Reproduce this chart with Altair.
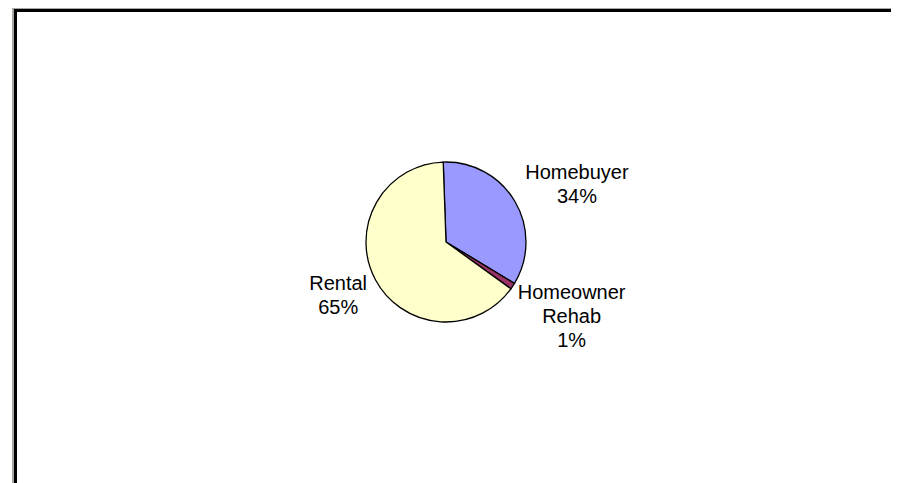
import math
import altair as alt
import pandas as pd

# ---- data ----
categories = ["Homebuyer", "Homeowner Rehab", "Rental"]
shares = [34.2, 1.3, 64.5]
label_names = ["Homebuyer", "Homeowner\nRehab", "Rental"]
pct_labels = ["34%", "1%", "65%"]

# ---- styles ----
colors = ["#9999FF", "#993366", "#FFFFCC"]
label_offsets = {"Homebuyer": (27.5, -8), "Homeowner Rehab": (25.5, -15.5), "Rental": (-2, -15)}
FONT = "Liberation Sans"

df = pd.DataFrame({
    "category": categories,
    "share": shares,
    "order": list(range(len(categories))),
    "label": [f"{n}\n{p}" for n, p in zip(label_names, pct_labels)],
})

start = math.radians(-2)
theta_scale = alt.Scale(domain=[0, 100], range=[start, start + 2 * math.pi])

base = alt.Chart(df).transform_stack(
    stack="share", groupby=[], as_=["s0", "s1"], sort=[alt.SortField("order")]
).transform_calculate(mid="(datum.s0 + datum.s1) / 2")

pie = base.mark_arc(outerRadius=80, stroke="black", strokeWidth=1.3).encode(
    theta=alt.Theta("s0:Q", scale=theta_scale),
    theta2="s1:Q",
    color=alt.Color("category:N", scale=alt.Scale(domain=categories, range=colors), legend=None),
)

texts = []
for c in categories:
    dx, dy = label_offsets[c]
    t = base.transform_filter(alt.datum.category == c).mark_text(
        radius=120, dx=dx, dy=dy, font=FONT, fontSize=20, lineBreak="\n",
        lineHeight=24, align="center", baseline="middle", color="black",
    ).encode(theta=alt.Theta("mid:Q", scale=theta_scale), text="label:N")
    texts.append(t)

frame_df = pd.DataFrame({"a": [0]})
frame = alt.Chart(frame_df)
left_gray = frame.mark_rule(color="#A8A8A0", strokeWidth=2).encode(
    x=alt.value(5), y=alt.value(0), y2=alt.value(475))
left_black = frame.mark_rule(color="black", strokeWidth=3).encode(
    x=alt.value(7.5), y=alt.value(0), y2=alt.value(475))
top_gray = frame.mark_rule(color="#A8A8A0", strokeWidth=1).encode(
    x=alt.value(4), x2=alt.value(883), y=alt.value(0.5))
top_black = frame.mark_rule(color="black", strokeWidth=3).encode(
    x=alt.value(6), x2=alt.value(883), y=alt.value(2.5))

chart = alt.layer(pie, *texts, left_gray, left_black, top_gray, top_black).properties(
    width=876, height=468,
    padding={"left": 0, "top": 0, "right": 7, "bottom": 7},
    autosize=alt.AutoSizeParams(type="none"),
).configure_view(strokeWidth=0)

chart.save("out.html", embed_options={"renderer": "svg", "actions": False})
